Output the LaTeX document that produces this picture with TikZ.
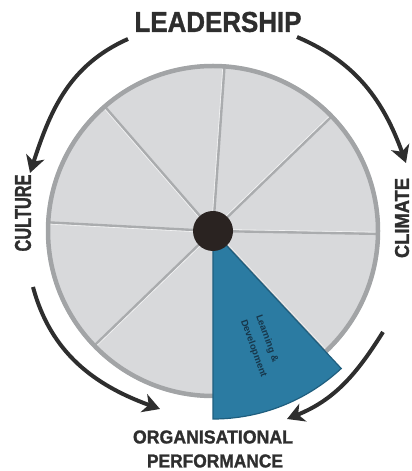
\documentclass[tikz,border=0pt]{standalone}
\usepackage{fontspec}
\setmainfont{Liberation Sans}
\newfontfamily\heavy{Liberation Sans}[UprightFont={* Bold}, UprightFeatures={FakeBold=1.4}]
\usetikzlibrary{arrows.meta}
\definecolor{ink}{HTML}{2E2E2E}
\definecolor{wheel}{HTML}{D8D9DB}
\definecolor{ring}{HTML}{A2A4A6}
\definecolor{sep}{HTML}{AAACAE}
\definecolor{hub}{HTML}{2A2321}
\definecolor{seg}{HTML}{2B7BA2}
\definecolor{segedge}{HTML}{1F5E7E}
\definecolor{segtext}{HTML}{17364A}
\tikzset{
  flow/.style={line width=4pt, ink, -{Stealth[length=17pt,width=19pt,inset=5pt]}},
  lab/.style={inner sep=0pt, text=ink, font=\heavy},
}
\begin{document}
\begin{tikzpicture}[x=1pt,y=1pt]
\useasboundingbox (0,0) rectangle (412,471);
\coordinate (C) at (213,240);
% wheel
\fill[wheel] (C) circle[radius=167];
\foreach \a in {86,131,177,224,313,359,44}{
  \draw[sep, line width=2.4pt] (C) -- ++(\a:166);
  \draw[white, line width=0.6pt, opacity=0.7] (C) ++(\a+90:1.7) -- ++(\a:164);
}
\draw[ring, line width=4.5pt] (C) circle[radius=165];
% highlighted segment
\fill[seg, draw=segedge, line width=1.2pt] (C) -- ++(270:188) arc[start angle=270, end angle=313, radius=188] -- cycle;
\node[rotate=-70, text=segtext, font=\fontsize{9.5}{16}\selectfont\bfseries, align=left, inner sep=0pt] (ld) at (261,125) {Learning \&\\Development};
% hub
\fill[hub] (C) circle[radius=20];
\node[circle, minimum size=40pt, inner sep=0pt] (hubn) at (C) {};
% labels
\node[lab] (lead) at (218,449) {\resizebox{167pt}{20pt}{LEADERSHIP}};
\node[lab, rotate=90] (cult) at (23,258) {\resizebox{77pt}{16pt}{CULTURE}};
\node[lab, rotate=90] (clim) at (402,253) {\resizebox{80pt}{14pt}{CLIMATE}};
\node[lab] (org) at (213,34) {\resizebox{160pt}{13pt}{ORGANISATIONAL}};
\node[lab] (perf) at (215,10) {\resizebox{136pt}{13pt}{PERFORMANCE}};
% arrows
\coordinate (a1s) at (128,432); \coordinate (a1e) at (30,298);
\coordinate (a2s) at (297,434); \coordinate (a2e) at (406,308);
\coordinate (a3s) at (33,184);  \coordinate (a3e) at (160,62);
\coordinate (a4s) at (383,139); \coordinate (a4e) at (287,52);
\draw[flow] (a1s) to[out=204,in=72] (a1e);
\draw[flow] (a2s) to[out=-23,in=110] (a2e);
\draw[flow] (a3s) to[out=-75,in=160] (a3e);
\draw[flow] (a4s) to[out=-122,in=22] (a4e);
\end{tikzpicture}
\end{document}
